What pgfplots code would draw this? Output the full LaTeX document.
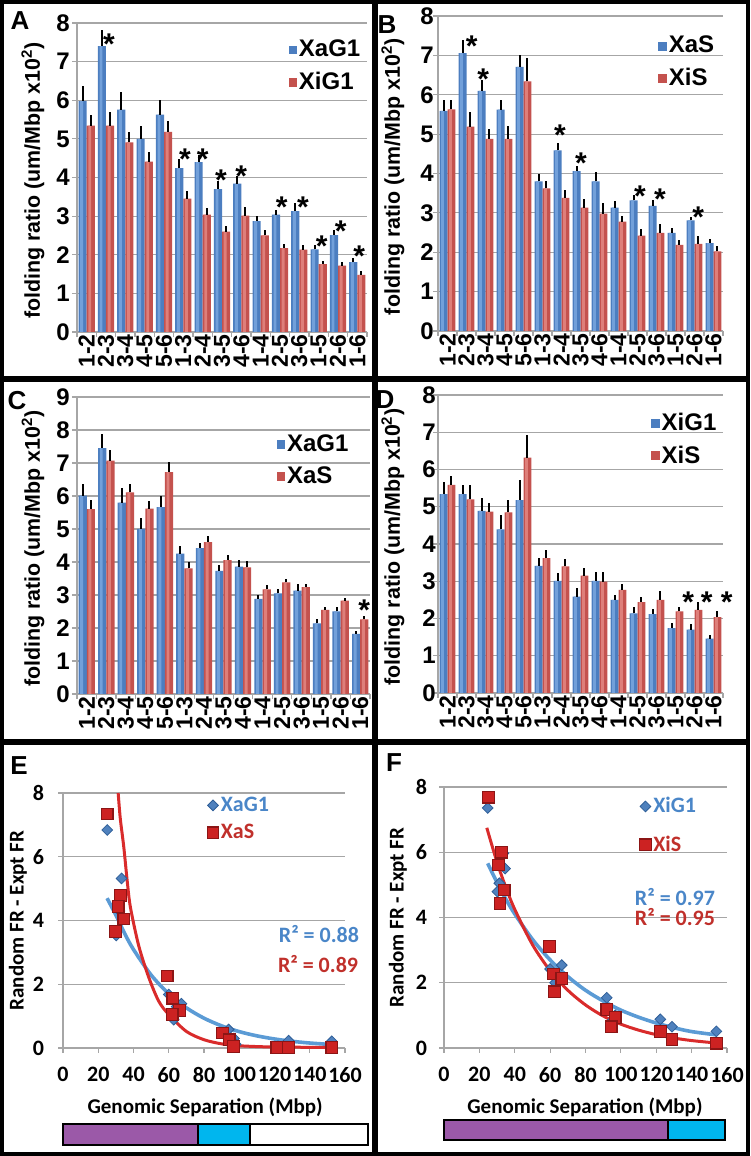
\documentclass[border=0pt]{standalone}
\usepackage{fontspec}
\setmainfont{Liberation Sans}
\newfontfamily\calib{Carlito}
\usepackage{pgfplots}
\pgfplotsset{compat=1.18}
\usepackage{pgfplotstable}
\definecolor{barB}{HTML}{4C7EC0}
\definecolor{barBL}{HTML}{72A0DA}
\definecolor{barR}{HTML}{C4524E}
\definecolor{barRL}{HTML}{DE7F7A}
\definecolor{gridc}{HTML}{A6A6A6}
\definecolor{sBlueFill}{HTML}{4F81BD}
\definecolor{sBlueDraw}{HTML}{2F5F98}
\definecolor{sRedFill}{HTML}{CC2222}
\definecolor{sRedDraw}{HTML}{8C1515}
\definecolor{cBlue}{HTML}{5B9BD5}
\definecolor{cRed}{HTML}{D92B2B}
\definecolor{tBlue}{HTML}{4A86C8}
\definecolor{tRed}{HTML}{C0302B}
\definecolor{purp}{HTML}{9B59A8}
\definecolor{cyanb}{HTML}{00B6EE}

% ---------------- data -----------------
\pgfplotstableread{
x y e
0 5.98 0.40
1 7.40 0.43
2 5.76 0.46
3 5.00 0.33
4 5.63 0.37
5 4.24 0.24
6 4.40 0.19
7 3.70 0.22
8 3.84 0.21
9 2.87 0.14
10 3.04 0.13
11 3.13 0.21
12 2.14 0.11
13 2.51 0.12
14 1.81 0.10
}\Ab
\pgfplotstableread{
x y e
0 5.34 0.29
1 5.34 0.35
2 4.91 0.28
3 4.41 0.26
4 5.18 0.28
5 3.45 0.19
6 3.04 0.17
7 2.60 0.14
8 3.01 0.22
9 2.50 0.14
10 2.17 0.10
11 2.13 0.13
12 1.76 0.08
13 1.72 0.08
14 1.48 0.09
}\Ar
\pgfplotstableread{
x y e
0 5.59 0.28
1 7.06 0.33
2 6.10 0.27
3 5.62 0.25
4 6.71 0.29
5 3.80 0.18
6 4.59 0.19
7 4.06 0.14
8 3.80 0.23
9 3.13 0.16
10 3.32 0.14
11 3.18 0.14
12 2.49 0.13
13 2.81 0.08
14 2.23 0.11
}\Bb
\pgfplotstableread{
x y e
0 5.63 0.23
1 5.19 0.38
2 4.88 0.25
3 4.88 0.33
4 6.34 0.60
5 3.62 0.19
6 3.38 0.19
7 3.13 0.21
8 2.98 0.27
9 2.78 0.14
10 2.42 0.17
11 2.49 0.22
12 2.19 0.12
13 2.21 0.19
14 2.02 0.15
}\Br
\pgfplotstableread{
x y e
0 6.01 0.36
1 7.45 0.44
2 5.80 0.44
3 5.00 0.33
4 5.66 0.34
5 4.25 0.24
6 4.42 0.17
7 3.73 0.18
8 3.86 0.20
9 2.88 0.12
10 3.05 0.12
11 3.13 0.21
12 2.14 0.12
13 2.50 0.13
14 1.82 0.10
}\Cb
\pgfplotstableread{
x y e
0 5.60 0.28
1 7.07 0.33
2 6.11 0.26
3 5.62 0.24
4 6.72 0.30
5 3.81 0.18
6 4.60 0.19
7 4.06 0.16
8 3.84 0.19
9 3.17 0.14
10 3.38 0.11
11 3.24 0.10
12 2.55 0.10
13 2.83 0.07
14 2.26 0.11
}\Cr
\pgfplotstableread{
x y e
0 5.34 0.33
1 5.34 0.25
2 4.89 0.34
3 4.39 0.39
4 5.18 0.54
5 3.41 0.21
6 3.01 0.21
7 2.59 0.23
8 3.01 0.25
9 2.50 0.14
10 2.14 0.17
11 2.12 0.13
12 1.74 0.14
13 1.70 0.15
14 1.46 0.10
}\Db
\pgfplotstableread{
x y e
0 5.59 0.24
1 5.20 0.39
2 4.87 0.24
3 4.85 0.32
4 6.32 0.61
5 3.62 0.22
6 3.40 0.19
7 3.15 0.20
8 2.99 0.27
9 2.77 0.16
10 2.44 0.15
11 2.50 0.23
12 2.19 0.13
13 2.23 0.20
14 2.04 0.15
}\Dr
% scatter E
\pgfplotstableread{
x y
25.1 6.84
33.2 5.32
30.2 3.53
32.0 4.30
34.0 4.10
60.0 1.68
67.2 1.39
62.8 0.89
64.5 1.30
94.0 0.58
97.0 0.30
98.0 0.12
128.0 0.23
122.0 0.05
152.5 0.21
}\Eb
\pgfplotstableread{
x y
25.1 7.34
32.6 4.79
31.3 4.44
34.5 4.05
29.8 3.66
59.1 2.26
62.3 1.56
66.0 1.18
61.9 1.05
90.6 0.47
94.3 0.26
96.8 0.05
121.3 0.02
128.0 0.02
152.5 0.02
}\Er
\pgfplotstableread{
x y
24.7 7.36
33.6 5.97
31.3 5.05
30.2 4.79
34.5 5.50
60.0 2.42
66.6 2.54
62.8 2.00
64.0 2.25
92.0 1.54
96.8 1.00
94.5 0.80
122.3 0.88
128.9 0.65
154.0 0.51
}\Fb
\pgfplotstableread{
x y
25.1 7.69
32.6 6.00
30.8 5.61
34.0 4.84
31.7 4.43
59.6 3.11
61.9 2.27
66.6 2.13
62.5 1.72
92.0 1.18
96.8 0.93
94.5 0.65
122.3 0.51
128.9 0.26
154.0 0.15
}\Fr

\tikzset{astx/.style={font=\bfseries\fontsize{15}{15}\selectfont, anchor=base, yshift=-8.6pt, inner sep=0pt}}
\pgfplotsset{
 sqleg/.style={legend image code/.code={\path[##1, draw=none] (0pt,-2.2pt) rectangle (4.2pt,2.2pt);}},
 barax/.style={
  scale only axis, clip=false,
  xmin=-0.5, xmax=14.5, ymin=0,
  axis x line*=bottom, axis y line*=left,
  axis line style={draw=gridc, line width=0.6pt},
  ymajorgrids, grid style={draw=gridc, line width=0.6pt},
  xtick={-0.5,0.5,...,14.5}, xticklabels={},
  extra x ticks={0,1,...,14},
  extra x tick labels={1-2,2-3,3-4,4-5,5-6,1-3,2-4,3-5,4-6,1-4,2-5,3-6,1-5,2-6,1-6},
  extra x tick style={major tick length=0pt, grid=none},
  x tick label style={rotate=90, anchor=east, inner sep=1pt, font=\bfseries\fontsize{11.5}{12}\selectfont},
  y tick label style={font=\bfseries\fontsize{12}{12}\selectfont, inner sep=0pt},
  tick style={draw=gridc, line width=0.6pt},
  tick align=outside, major tick length=2.5pt,
  ytick distance=1,
  /pgf/number format/assume math mode=true,
  ylabel={folding ratio (um/Mbp x10\textsuperscript{2})},
  ylabel style={font=\bfseries\fontsize{10.7}{11}\selectfont, anchor=center},
  legend style={draw=none, fill=none, inner sep=0pt, row sep=4pt, anchor=west,
     font=\bfseries\fontsize{12}{12}\selectfont, nodes={inner sep=1pt}},
  legend cell align=left,
 },
 bbar/.style={ybar, bar width=0.42, bar shift=-0.21, draw=none, fill=barB, sqleg},
 rbar/.style={ybar, bar width=0.42, bar shift=0.21, draw=none, fill=barR, sqleg},
 bhl/.style={ybar, bar width=0.15, bar shift=-0.26, draw=none, fill=barBL, forget plot},
 rhl/.style={ybar, bar width=0.15, bar shift=0.16, draw=none, fill=barRL, forget plot},
 ebar/.style={no markers, draw=none, forget plot,
   error bars/y dir=plus, error bars/y explicit, error bars/error mark=none,
   error bars/error bar style={draw=black, line width=1pt}},
 scatax/.style={
  scale only axis, clip=false,
  xmin=0, xmax=160, ymin=0, ymax=8, xtick={0,20,...,160}, ytick={0,2,...,8},
  axis x line*=bottom, axis y line*=left,
  axis line style={draw=gridc, line width=0.6pt},
  ymajorgrids, grid style={draw=gridc, line width=0.6pt},
  tick style={draw=gridc, line width=0.6pt}, tick align=outside, major tick length=2.5pt,
  /pgf/number format/assume math mode=true,
  tick label style={font=\calib\bfseries\fontsize{11}{12}\selectfont},
  x tick label style={yshift=-3.5pt},
  ylabel={Random FR - Expt FR}, xlabel={Genomic Separation (Mbp)},
  label style={font=\calib\bfseries\fontsize{10.5}{11}\selectfont},
  legend style={draw=none, fill=none, inner sep=0pt, anchor=north west,
     font=\calib\bfseries\fontsize{11}{12}\selectfont, nodes={inner sep=1pt}},
  legend cell align=left,
  legend image code/.code={\draw[##1] plot coordinates {(0pt,0pt)};},
 },
 bdia/.style={only marks, mark=square*, mark size=1.9pt, mark options={rotate=45, fill=sBlueFill, draw=sBlueDraw, line width=0.4pt}},
 rsq/.style={only marks, mark=square*, mark size=2.9pt, mark options={fill=sRedFill, draw=sRedDraw, line width=0.6pt}},
}

\begin{document}
\begin{tikzpicture}
\useasboundingbox (0pt,0pt) rectangle (375pt,578pt);

% ---------------- A ----------------
\begin{axis}[barax, at={(38.5pt,412pt)}, anchor=south west, width=145pt, height=154.5pt, ymax=8,
  ylabel style={at={(axis description cs:-0.152,0.49)}},
  y tick label style={xshift=-1pt},
  legend style={at={(axis description cs:0.728,0.86)}}]
\addplot[bbar] table[x=x,y=y]{\Ab}; \addlegendentry{XaG1}
\addplot[rbar] table[x=x,y=y]{\Ar}; \addlegendentry{XiG1}
\addplot[bhl] table[x=x,y=y]{\Ab};
\addplot[rhl] table[x=x,y=y]{\Ar};
\addplot[ebar] table[x expr=\thisrow{x}-0.21,y=y,y error=e]{\Ab};
\addplot[ebar] table[x expr=\thisrow{x}+0.21,y=y,y error=e]{\Ar};
\node[astx] at (axis cs:1.15,7.63) {*};
\node[astx] at (axis cs:5.09,4.65) {*};
\node[astx] at (axis cs:6.0,4.65) {*};
\node[astx] at (axis cs:6.95,4.12) {*};
\node[astx] at (axis cs:8.0,4.2) {*};
\node[astx] at (axis cs:10.09,3.40) {*};
\node[astx] at (axis cs:11.19,3.40) {*};
\node[astx] at (axis cs:12.16,2.39) {*};
\node[astx] at (axis cs:13.14,2.78) {*};
\node[astx] at (axis cs:14.1,2.15) {*};
\end{axis}

% ---------------- B ----------------
\begin{axis}[barax, at={(219pt,412.5pt)}, anchor=south west, width=142.5pt, height=157.5pt, ymax=8,
  ylabel style={at={(axis description cs:-0.158,0.49)}},
  y tick label style={xshift=0.5pt},
  legend style={at={(axis description cs:0.772,0.853)}}]
\addplot[bbar] table[x=x,y=y]{\Bb}; \addlegendentry{XaS}
\addplot[rbar] table[x=x,y=y]{\Br}; \addlegendentry{XiS}
\addplot[bhl] table[x=x,y=y]{\Bb};
\addplot[rhl] table[x=x,y=y]{\Br};
\addplot[ebar] table[x expr=\thisrow{x}-0.21,y=y,y error=e]{\Bb};
\addplot[ebar] table[x expr=\thisrow{x}+0.21,y=y,y error=e]{\Br};
\node[astx] at (axis cs:1.27,7.41) {*};
\node[astx] at (axis cs:1.88,6.56) {*};
\node[astx] at (axis cs:5.92,5.15) {*};
\node[astx] at (axis cs:7.03,4.43) {*};
\node[astx] at (axis cs:10.13,3.60) {*};
\node[astx] at (axis cs:11.18,3.51) {*};
\node[astx] at (axis cs:13.2,3.07) {*};
\end{axis}

% ---------------- C ----------------
\begin{axis}[barax, at={(38.5pt,231pt)}, anchor=south west, width=146.5pt, height=148.5pt, ymax=9,
  ylabel style={at={(axis description cs:-0.150,0.49)}},
  y tick label style={xshift=-1pt},
  legend style={at={(axis description cs:0.68,0.786)}}]
\addplot[bbar] table[x=x,y=y]{\Cb}; \addlegendentry{XaG1}
\addplot[rbar] table[x=x,y=y]{\Cr}; \addlegendentry{XaS}
\addplot[bhl] table[x=x,y=y]{\Cb};
\addplot[rhl] table[x=x,y=y]{\Cr};
\addplot[ebar] table[x expr=\thisrow{x}-0.21,y=y,y error=e]{\Cb};
\addplot[ebar] table[x expr=\thisrow{x}+0.21,y=y,y error=e]{\Cr};
\node[astx] at (axis cs:14.2,2.75) {*};
\end{axis}

% ---------------- D ----------------
\begin{axis}[barax, at={(219pt,231.5pt)}, anchor=south west, width=142.5pt, height=149pt, ymax=8,
  ylabel style={at={(axis description cs:-0.158,0.49)}},
  y tick label style={xshift=1.5pt},
  legend style={at={(axis description cs:0.747,0.85)}}]
\addplot[bbar] table[x=x,y=y]{\Db}; \addlegendentry{XiG1}
\addplot[rbar] table[x=x,y=y]{\Dr}; \addlegendentry{XiS}
\addplot[bhl] table[x=x,y=y]{\Db};
\addplot[rhl] table[x=x,y=y]{\Dr};
\addplot[ebar] table[x expr=\thisrow{x}-0.21,y=y,y error=e]{\Db};
\addplot[ebar] table[x expr=\thisrow{x}+0.21,y=y,y error=e]{\Dr};
\node[astx] at (axis cs:12.67,2.61) {*};
\node[astx] at (axis cs:13.64,2.61) {*};
\node[astx] at (axis cs:14.69,2.61) {*};
\end{axis}

% ---------------- E ----------------
\begin{axis}[scatax, at={(31.5pt,54pt)}, anchor=south west, width=141pt, height=127.5pt,
  y tick label style={xshift=-3.5pt},
  ylabel style={at={(axis description cs:-0.16,0.5)}, anchor=center},
  xlabel style={at={(axis description cs:0.504,-0.231)}, anchor=center},
  legend style={at={(axis description cs:0.51,0.995)}, row sep=3pt}]
\addplot[bdia] table[x=x,y=y]{\Eb}; \addlegendentry{\textcolor{tBlue}{XaG1}}
\addplot[rsq] table[x=x,y=y]{\Er}; \addlegendentry{\textcolor{tRed}{XaS}}
\addplot[cBlue, line width=1.8pt, smooth, no marks, forget plot] coordinates {
(25,4.70) (30,4.17) (35,3.59) (40,3.09) (50,2.29) (60,1.70) (70,1.26) (80,0.935)
(90,0.694) (100,0.514) (110,0.381) (120,0.283) (130,0.210) (140,0.156) (153,0.106)};
\addplot[cRed, line width=1.5pt, smooth, no marks, forget plot] coordinates {
(31.3,8.0) (32.5,7.2) (34.5,6.3) (36.5,5.2) (38.3,4.4) (43,3.2) (48.7,2.21) (54.3,1.47)
(60,1.05) (70,0.52) (80,0.26) (90,0.13) (100,0.07) (120,0.03) (153,0.02)};
\node[font=\calib\bfseries\fontsize{11}{12}\selectfont, text=tBlue] at (axis cs:145.2,3.57) {R² = 0.88};
\node[font=\calib\bfseries\fontsize{11}{12}\selectfont, text=tRed] at (axis cs:144.7,2.63) {R² = 0.89};
\end{axis}

% ---------------- F ----------------
\begin{axis}[scatax, at={(222pt,54pt)}, anchor=south west, width=141.5pt, height=130.5pt,
  y tick label style={xshift=-2.5pt},
  ylabel style={at={(axis description cs:-0.1625,0.5)}, anchor=center},
  xlabel style={at={(axis description cs:0.498,-0.226)}, anchor=center},
  legend style={at={(axis description cs:0.69,0.97)}, row sep=8pt}]
\addplot[bdia] table[x=x,y=y]{\Fb}; \addlegendentry{\textcolor{tBlue}{XiG1}}
\addplot[rsq] table[x=x,y=y]{\Fr}; \addlegendentry{\textcolor{tRed}{XiS}}
\addplot[cBlue, line width=1.8pt, smooth, no marks, forget plot] coordinates {
(24.7,5.66) (30,5.07) (35,4.56) (40,4.11) (50,3.33) (60,2.70) (70,2.19) (80,1.77)
(90,1.44) (100,1.16) (110,0.944) (120,0.765) (130,0.62) (140,0.503) (154.3,0.40)};
\addplot[cRed, line width=1.5pt, smooth, no marks, forget plot] coordinates {
(24.2,6.75) (30,5.69) (35,4.92) (40,4.25) (50,3.17) (60,2.37) (70,1.77) (80,1.32)
(90,0.98) (100,0.73) (110,0.548) (120,0.409) (130,0.305) (140,0.228) (154.3,0.15)};
\node[font=\calib\bfseries\fontsize{11}{12}\selectfont, text=tBlue] at (axis cs:130.6,4.63) {R² = 0.97};
\node[font=\calib\bfseries\fontsize{11}{12}\selectfont, text=tRed] at (axis cs:130.6,4.02) {R² = 0.95};
\end{axis}

% colour strips
\fill[purp] (31.5pt,5.5pt) rectangle (99pt,16pt);
\fill[cyanb] (99pt,5.5pt) rectangle (125pt,16pt);
\draw[line width=0.9pt] (31.5pt,5.5pt) rectangle (184pt,16pt);
\draw[line width=0.9pt] (99pt,5.5pt) -- (99pt,16pt) (125pt,5.5pt) -- (125pt,16pt);
\fill[purp] (222pt,8pt) rectangle (334pt,18pt);
\fill[cyanb] (334pt,8pt) rectangle (362.5pt,18pt);
\draw[line width=0.9pt] (222pt,8pt) rectangle (362.5pt,18pt);
\draw[line width=0.9pt] (334pt,8pt) -- (334pt,18pt);

% panel letters
\foreach \l/\x/\y in {A/10/567.5, B/193.5/565.5, C/8.5/377.5, D/192.5/378, E/9.5/195, F/197/196.5}
  \node[font=\bfseries\fontsize{13}{13}\selectfont] at (\x pt,\y pt) {\l};

% frames
\draw[line width=2pt] (1pt,1pt) rectangle (374pt,577pt);
\draw[line width=3pt] (187.5pt,0pt) -- (187.5pt,578pt);
\draw[line width=3pt] (0pt,388.5pt) -- (375pt,388.5pt);
\draw[line width=3pt] (0pt,207pt) -- (375pt,207pt);
\end{tikzpicture}
\end{document}
